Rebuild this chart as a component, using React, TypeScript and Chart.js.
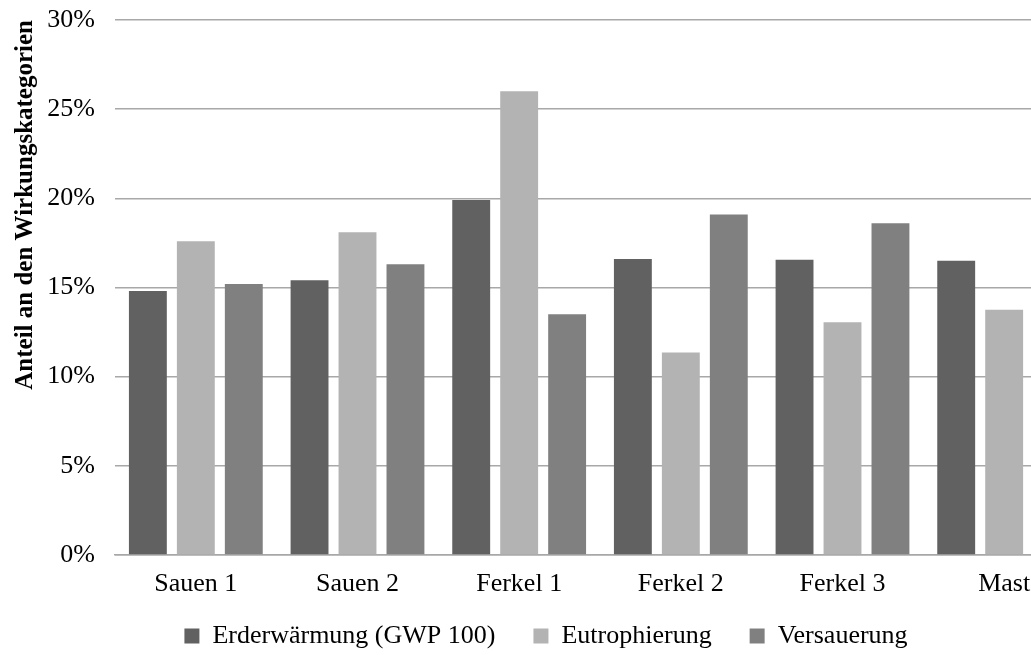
import React, { useEffect, useRef } from "react";
import { Chart, registerables } from "chart.js";

Chart.register(...registerables);

const categories = ["Sauen 1", "Sauen 2", "Ferkel 1", "Ferkel 2", "Ferkel 3", "Mast"];
const seriesNames = ["Erderwärmung (GWP 100)", "Eutrophierung", "Versauerung"];
const erderwaermung = [14.8, 15.4, 19.9, 16.6, 16.55, 16.5];
const eutrophierung = [17.6, 18.1, 26.0, 11.35, 13.05, 13.75];
const versauerung = [15.2, 16.3, 13.5, 19.1, 18.6, 15.0];
const yTicks = [0, 5, 10, 15, 20, 25, 30];
const yTitle = "Anteil an den Wirkungskategorien";

const colors = ["#616161", "#b3b3b3", "#808080"];
const FONT = "'Liberation Serif', 'Times New Roman', serif";

const legendShift = {
  id: "legendShift",
  afterLayout(chart: any) {
    const l = chart.legend;
    if (l) {
      l.top -= 12;
      l.bottom -= 12;
    }
  },
};

export default function App() {
  const ref = useRef<HTMLCanvasElement | null>(null);
  useEffect(() => {
    if (!ref.current) return;
    const chart = new Chart(ref.current, {
      type: "bar",
      data: {
        labels: categories,
        datasets: [erderwaermung, eutrophierung, versauerung].map((d, i) => ({
          label: seriesNames[i],
          data: d,
          backgroundColor: colors[i],
          borderWidth: 0,
          categoryPercentage: 0.89,
          barPercentage: 0.79,
        })),
      },
      plugins: [legendShift],
      options: {
        responsive: false,
        animation: false,
        devicePixelRatio: 1,
        layout: { padding: { left: 7, right: 15, top: 20, bottom: -16 } },
        plugins: {
          tooltip: { enabled: false },
          legend: {
            position: "bottom",
            labels: {
              boxWidth: 15,
              boxHeight: 15,
              padding: 38,
              color: "#000",
              font: { family: FONT, size: 26 },
            },
          },
        },
        scales: {
          x: {
            afterFit: (s: any) => {
              s.height = 42;
            },
            grid: { display: false },
            border: { display: true, color: "#a8a8a8", width: 1.5 },
            ticks: {
              color: "#000",
              padding: 6,
              maxRotation: 0,
              font: { family: FONT, size: 26 },
            },
          },
          y: {
            min: 0,
            max: 30,
            afterBuildTicks: (s: any) => {
              s.ticks = yTicks.map((v) => ({ value: v }));
            },
            afterFit: (s: any) => {
              s.width = 108;
            },
            grid: {
              color: "#a8a8a8",
              lineWidth: 1.5,
              drawTicks: true,
              tickLength: 18,
              tickColor: "rgba(0,0,0,0)",
            },
            border: { display: false },
            ticks: {
              color: "#000",
              padding: 2,
              font: { family: FONT, size: 26 },
              callback: (v: any) => `${v}%`,
            },
            title: {
              display: true,
              text: yTitle,
              align: "end",
              color: "#000",
              padding: { top: 4, bottom: 4 },
              font: { family: FONT, size: 25, weight: "bold" },
            },
          },
        },
      },
    });
    return () => chart.destroy();
  }, []);
  return (
    <div
      style={{
        position: "fixed",
        left: 0,
        top: 0,
        width: 1031,
        height: 655,
        overflow: "hidden",
        background: "#fff",
      }}
    >
      <canvas ref={ref} width={1100} height={655} />
    </div>
  );
}
